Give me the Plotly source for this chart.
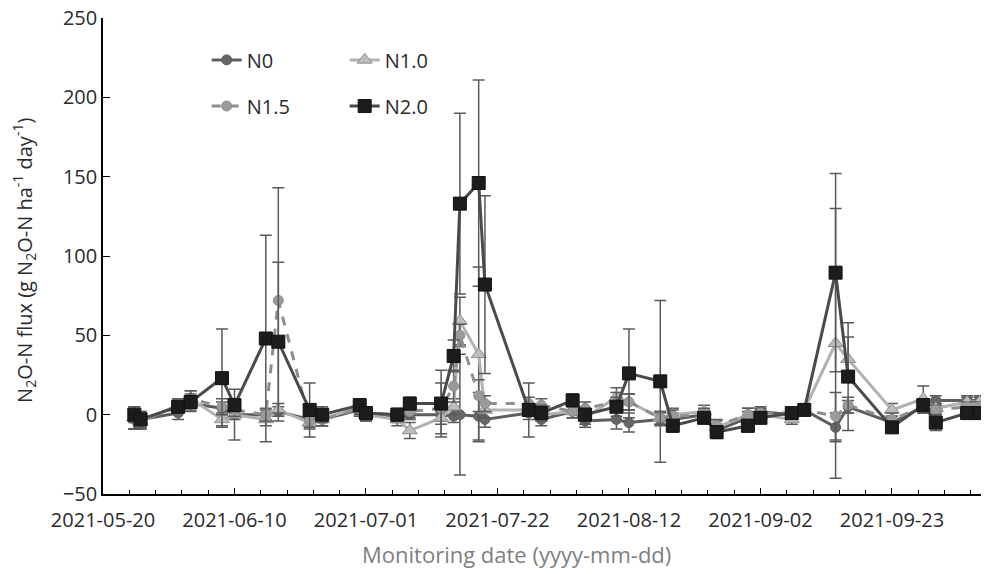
import plotly.graph_objects as go

dates = ["2021-05-25", "2021-05-26", "2021-06-01", "2021-06-03", "2021-06-08", "2021-06-10",
         "2021-06-15", "2021-06-17", "2021-06-22", "2021-06-24", "2021-06-30", "2021-07-01",
         "2021-07-06", "2021-07-08", "2021-07-13", "2021-07-15", "2021-07-16", "2021-07-19",
         "2021-07-20", "2021-07-27", "2021-07-29", "2021-08-03", "2021-08-05", "2021-08-10",
         "2021-08-12", "2021-08-17", "2021-08-19", "2021-08-24", "2021-08-26", "2021-08-31",
         "2021-09-02", "2021-09-07", "2021-09-09", "2021-09-14", "2021-09-16", "2021-09-23",
         "2021-09-28", "2021-09-30", "2021-10-05", "2021-10-07"]

n0 = [-3, -3, 1, 7, 4, 0, 0, 2, -3, -3, 3, 0, -2, 0, 0, -1, 0, -1, -3, 1,
      -3, 2, -4, -3, -5, -3, -3, 0, -10, -2, 2, 0, 3, -8, 5, -5, 5, 9, 9, 9]
n0_err = [6, 5, 4, 5, 4, 3, 3, 3, 4, 4, 4, 4, 3, 3, 4, 4, 38, 15, 5, 4,
          4, 4, 4, 6, 6, 4, 4, 3, 4, 4, 3, 3, 3, 9, 4, 4, 4, 3, 3, 3]

n1 = [-2, -4, 6, 10, -3, 0, -3, 3, -5, -3, 5, 0, -3, -10, -2, 5, 59, 38, 3, 3,
      0, 2, -2, 11, 8, -2, 0, 2, -8, 0, 0, -3, 3, 45, 35, 3, 10, 4, 8, 8]
n1_err = [7, 5, 4, 5, 4, 16, 4, 4, 4, 4, 4, 4, 4, 5, 4, 5, 15, 55, 5, 4,
          4, 4, 4, 6, 5, 4, 4, 4, 4, 4, 3, 3, 3, 85, 14, 4, 8, 3, 3, 3]

n15 = [-3, -4, 5, 10, 5, 3, 0, 72, -4, -3, 4, 1, 0, 2, 4, 18, 50, 12, 7, 7,
       6, 2, 4, 8, 8, -2, -1, 0, -7, 0, 1, 1, 3, -1, 6, -3, 5, 3, 5, 5]
n15_err = [6, 5, 4, 5, 5, 4, 4, 71, 4, 4, 4, 4, 4, 4, 16, 10, 7, 10, 5, 4,
           4, 4, 4, 6, 5, 4, 4, 4, 4, 4, 3, 3, 3, 15, 5, 4, 4, 3, 3, 3]

n2 = [0, -3, 5, 8, 23, 6, 48, 46, 3, 0, 6, 1, 0, 7, 7, 37, 133, 146, 82, 3,
      1, 9, 0, 5, 26, 21, -7, -2, -11, -7, -2, 1, 3, 89.5, 24, -8, 6, -5, 1, 1]
n2_err = [5, 5, 4, 5, 31, 4, 65, 50, 17, 5, 4, 4, 3, 4, 21, 10, 57, 65, 56, 17,
          5, 4, 4, 6, 28, 51, 4, 3, 4, 4, 3, 3, 3, 62.5, 34, 3, 4, 5, 3, 3]

y_ticks = [-50, 0, 50, 100, 150, 200, 250]
x_ticks = ["2021-05-20", "2021-06-10", "2021-07-01", "2021-07-22", "2021-08-12", "2021-09-02", "2021-09-23"]

ERR_COLOR = "#5a5a5a"
FONT = "Open Sans"
TXT = "#2b2b2b"

fig = go.Figure()

def add(name, y, err, line_color, dash, symbol, msize, mcolor, mline, legend):
    fig.add_trace(go.Scatter(
        x=dates, y=y, name=name, mode="lines+markers", legend=legend,
        line=dict(color=line_color, width=3, dash=dash),
        marker=dict(symbol=symbol, size=msize, color=mcolor,
                    line=dict(color=mline, width=1)),
        error_y=dict(type="data", array=err, visible=True, color=ERR_COLOR,
                     thickness=1.5, width=6),
    ))

add("N0", n0, n0_err, "#5e5e5e", "solid", "circle", 10, "#666666", "#5e5e5e", "legend")
add("N1.0", n1, n1_err, "#b2b2b2", "solid", "triangle-up", 13, "#bdbdbd", "#8c8c8c", "legend")
add("N1.5", n15, n15_err, "#8e8e8e", "dash", "circle", 10, "#9a9a9a", "#8e8e8e", "legend2")
add("N2.0", n2, n2_err, "#4a4a4a", "solid", "square", 13, "#1c1c1c", "#111111", "legend2")

# page has an 8px body margin: the figure is sized/margined so the plot area
# lands at x 103..989, y 18..494 in the window
fig.update_layout(
    width=981, height=566,
    margin=dict(l=95, r=0, t=10, b=80, autoexpand=False),
    paper_bgcolor="white", plot_bgcolor="white",
    font=dict(family=FONT, size=20, color=TXT),
    showlegend=True,
    legend=dict(orientation="h", x=0.117, y=0.912, xanchor="left", yanchor="middle",
                entrywidth=93, entrywidthmode="pixels", font=dict(size=20, color=TXT),
                bgcolor="rgba(0,0,0,0)", traceorder="normal"),
    legend2=dict(orientation="h", x=0.117, y=0.815, xanchor="left", yanchor="middle",
                 entrywidth=93, entrywidthmode="pixels", font=dict(size=20, color=TXT),
                 bgcolor="rgba(0,0,0,0)", traceorder="normal"),
    xaxis=dict(
        type="date", range=["2021-05-20", "2021-10-08 12:00"],
        tickvals=x_ticks, ticktext=x_ticks, ticklabeloverflow="allow",
        ticklabelstandoff=7,
        ticks="inside", ticklen=6, tickwidth=1.2, tickcolor="black",
        minor=dict(dtick=4.2 * 86400000, tick0="2021-05-20", ticks="inside",
                   ticklen=4, tickwidth=1.2, tickcolor="black", showgrid=False),
        showline=True, linecolor="black", linewidth=1.5, mirror=False,
        showgrid=False, zeroline=False, automargin=False,
        tickfont=dict(size=20, color=TXT),
    ),
    yaxis=dict(
        range=[-50, 250], tickvals=y_ticks, ticklabeloverflow="allow",
        ticks="inside", ticklen=7, tickwidth=1.2, tickcolor="black",
        showline=True, linecolor="black", linewidth=1.5,
        showgrid=False, zeroline=False, automargin=False,
        tickfont=dict(size=20, color=TXT),
    ),
    annotations=[
        dict(text="Monitoring date (yyyy-mm-dd)", xref="paper", yref="paper",
             x=0.467, y=-0.125, xanchor="center", yanchor="middle",
             showarrow=False, font=dict(size=22, color="#7f7f7f")),
        dict(text="N<sub>2</sub>O-N flux (g N<sub>2</sub>O-N ha<sup>-1</sup> day<sup>-1</sup>)",
             xref="paper", yref="paper", x=-0.089, y=0.49, textangle=-90,
             xanchor="center", yanchor="middle", showarrow=False,
             font=dict(size=20, color=TXT)),
    ],
)

fig.write_html("out.html")
